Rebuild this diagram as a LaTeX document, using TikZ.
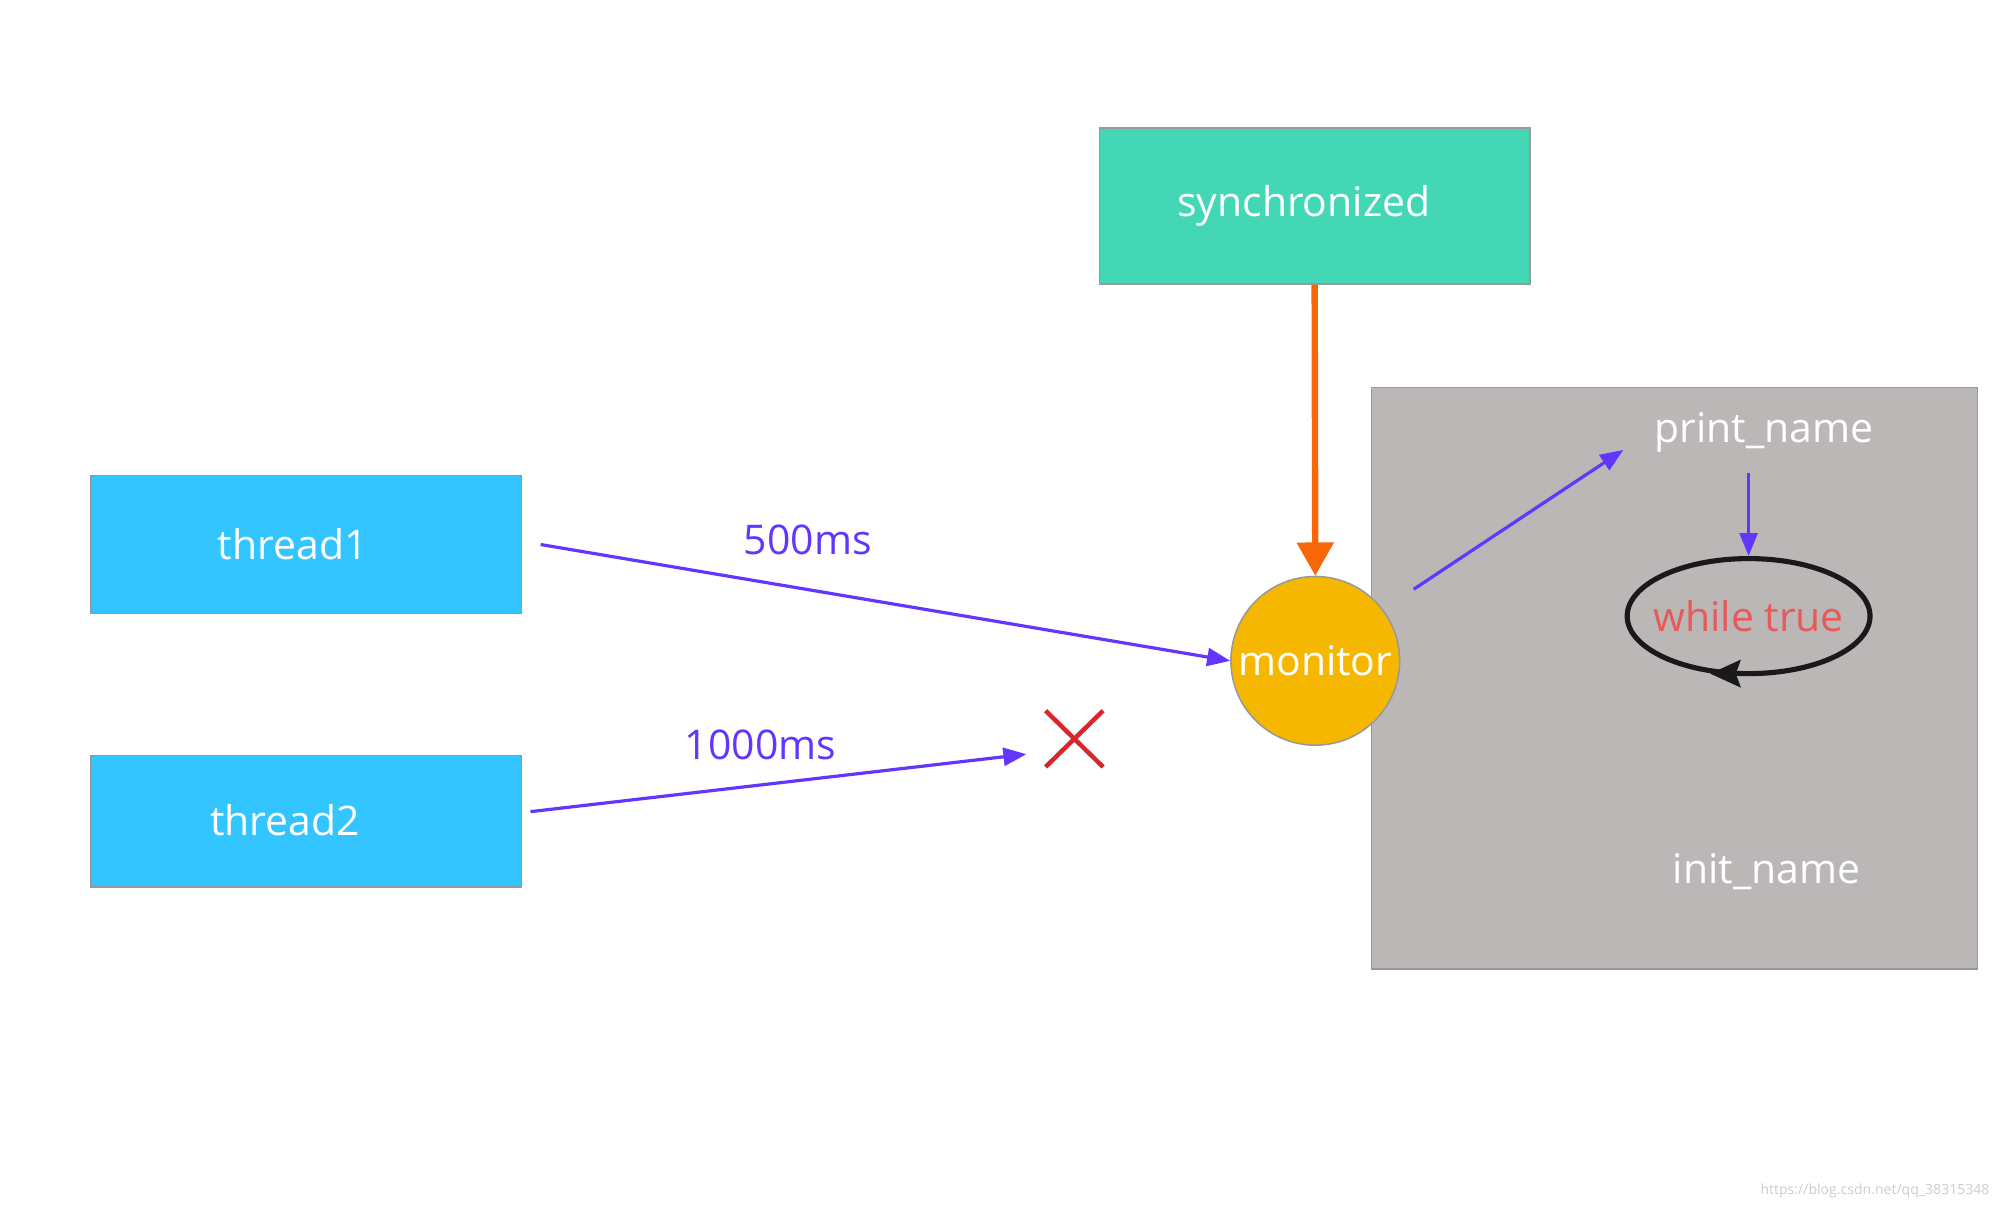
\documentclass[tikz,border=0pt]{standalone}
\usepackage{fontspec}
\setmainfont{Open Sans}
\usetikzlibrary{arrows.meta,shapes.geometric}
\definecolor{teal1}{HTML}{44D7B6}
\definecolor{blue1}{HTML}{32C5FF}
\definecolor{gray1}{HTML}{BAB7B6}
\definecolor{gold1}{HTML}{F5B700}
\definecolor{orange1}{HTML}{F76707}
\definecolor{purple1}{HTML}{6236FF}
\definecolor{red1}{HTML}{E85A5A}
\definecolor{redx}{HTML}{D9262B}
\begin{document}
\begin{tikzpicture}[x=1pt,y=-1pt,
  box/.style={draw=gray!80,line width=1.2pt,inner sep=0pt},
  lbl/.style={font=\fontsize{32}{38}\selectfont,text=white},
  parr/.style={draw=purple1,line width=2.5pt,-{Triangle[length=18pt,width=14pt]}}]
\useasboundingbox (0,0) rectangle (1560,942);
\node[box,fill=teal1,minimum width=337pt,minimum height=122pt] (sync) at (1028.5,161) {};
\node[lbl] at (1020,161) {synchronized};
\node[box,fill=gray1,minimum width=474pt,minimum height=455pt] (area) at (1310,530.5) {};
\node[box,fill=blue1,minimum width=337pt,minimum height=108pt] (t1) at (239.5,426) {};
\node[lbl] at (229,426) {thread1};
\node[box,fill=blue1,minimum width=337pt,minimum height=103pt] (t2) at (239.5,642.5) {};
\node[lbl] at (223,642) {thread2};
\node[circle,draw=gray!80,line width=1.2pt,fill=gold1,minimum size=132pt,inner sep=0pt] (mon) at (1029,517) {};
\node[lbl] at (1029,517) {monitor};
\draw[draw=orange1,line width=5pt,-{Triangle[length=26pt,width=28pt]}] (sync.south) -- (mon.north);
\coordinate (a1) at (423,426);
\coordinate (a2) at (415,635);
\coordinate (xend) at (803,590);
\draw[parr] (a1) -- (mon.west);
\draw[parr] (a2) -- (xend);
\node[font=\fontsize{32}{38}\selectfont,text=purple1] at (632,422) {500ms};
\node[font=\fontsize{32}{38}\selectfont,text=purple1] at (595,583) {1000ms};
\draw[redx,line width=3.5pt] (818,556) -- (863,600) (863,556) -- (818,600);
\node[lbl] (pn) at (1380,338) {print\_name};
\coordinate (m1) at (1106,461);
\coordinate (p1) at (1270,352);
\draw[parr] (m1) -- (p1);
\node[draw=black!90,line width=4pt,ellipse,minimum width=190pt,minimum height=90pt] (el) at (1368,482) {};
\draw[parr] (1368,370) -- (el.north);
\fill[black!90] (1338,527) -- (1362,516) -- (1358,527) -- (1362,538) -- cycle;
\node[font=\fontsize{32}{38}\selectfont,text=red1] at (1368,482) {while true};
\node[lbl] at (1382,682) {init\_name};
\node[font=\fontsize{11}{13}\selectfont,text=gray!40,anchor=east] at (1560,932) {https://blog.csdn.net/qq\_38315348};
\end{tikzpicture}
\end{document}
